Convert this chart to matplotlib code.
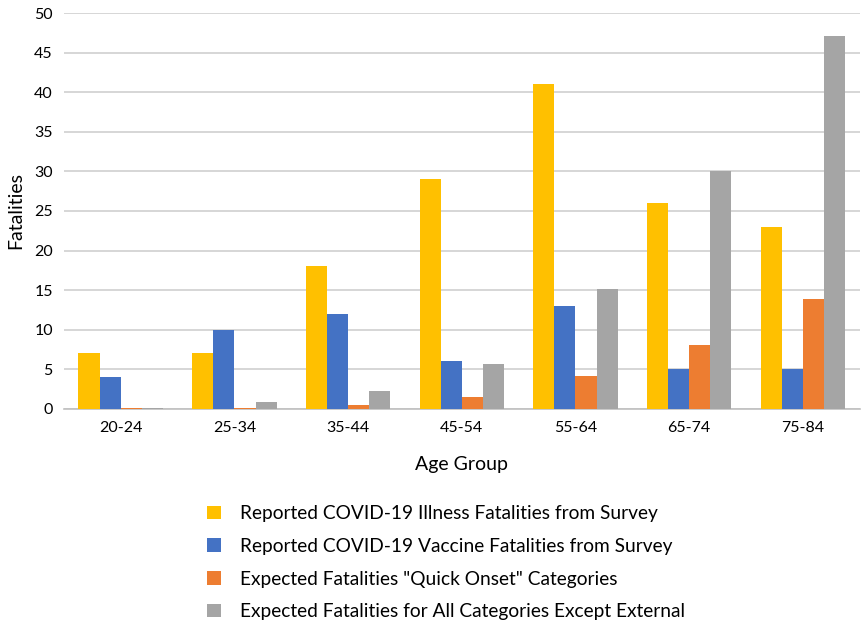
import numpy as np
import matplotlib.pyplot as plt

plt.rcParams['font.family'] = ['Lato', 'DejaVu Sans']

age_groups = ['20-24', '25-34', '35-44', '45-54', '55-64', '65-74', '75-84']
illness = [7, 7, 18, 29, 41, 26, 23]
vaccine = [4, 10, 12, 6, 13, 5, 5]
quick_onset = [0.05, 0.15, 0.5, 1.5, 4.2, 8.1, 13.9]
all_except_ext = [0.1, 0.8, 2.3, 5.7, 15.2, 30.1, 47.1]

labels = ['Reported COVID-19 Illness Fatalities from Survey',
          'Reported COVID-19 Vaccine Fatalities from Survey',
          'Expected Fatalities "Quick Onset" Categories',
          'Expected Fatalities for All Categories Except External']
colors = ['#FFC000', '#4472C4', '#ED7D31', '#A5A5A5']

fig = plt.figure(figsize=(8.64, 6.26), dpi=100)
ax = fig.add_axes([0.074, 0.347, 0.921, 0.632])

x = np.arange(len(age_groups))
w = 0.186
series = [illness, vaccine, quick_onset, all_except_ext]
for i, vals in enumerate(series):
    ax.bar(x + (i - 1.5) * w, vals, width=w, color=colors[i], label=labels[i], zorder=3)

ax.set_xlim(-0.5, len(age_groups) - 0.5)
ax.set_ylim(0, 50)
ax.set_yticks(np.arange(0, 51, 5))
ax.set_xticks(x)
ax.set_xticklabels(age_groups)
ax.tick_params(length=0, labelsize=11.5, colors='#000000')
ax.tick_params(axis='x', pad=9)
ax.tick_params(axis='y', pad=8)
ax.grid(axis='y', color='#d0d0d0', linewidth=1.2, zorder=0)
for s in ['top', 'right', 'left']:
    ax.spines[s].set_visible(False)
ax.spines['bottom'].set_color('#c0c0c0')
ax.spines['bottom'].set_linewidth(1.2)
ax.set_xlabel('Age Group', fontsize=14, labelpad=15)
ax.set_ylabel('Fatalities', fontsize=14, labelpad=7)

ax.legend(loc='upper center', bbox_to_anchor=(0.48, -0.2), ncol=1, frameon=False,
          fontsize=13.8, handlelength=0.7, handleheight=0.7, labelspacing=0.82,
          handletextpad=1.0)

fig.savefig('out.png', dpi=100)
